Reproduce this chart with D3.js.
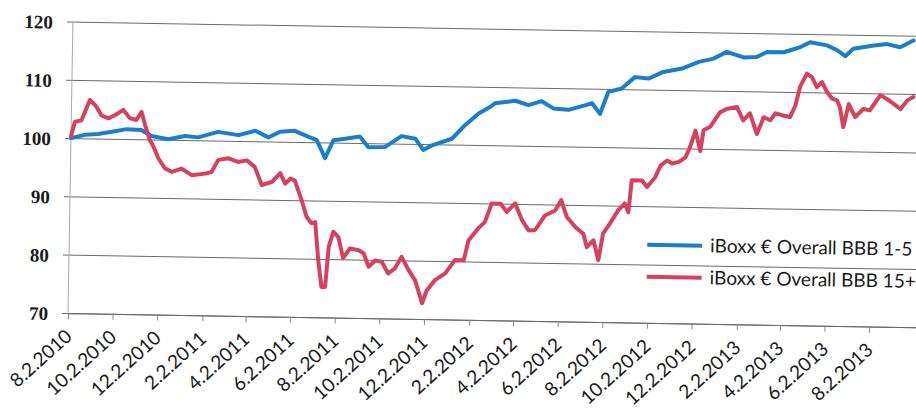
<!DOCTYPE html>
<html><head><meta charset="utf-8">
<script src="https://cdn.jsdelivr.net/npm/d3@7"></script>
<style>html,body{margin:0;padding:0;background:#fff}svg{display:block}</style>
</head><body>
<svg id="chart" width="916" height="411"></svg>
<script>
const seriesNames = ["iBoxx € Overall BBB 1-5", "iBoxx € Overall BBB 15+"];
const seriesColors = ["#1b7dcb", "#d6415d"];

const blueDates = ["2010-08-02","2010-08-21","2010-09-08","2010-09-27","2010-10-17","2010-11-06","2010-11-20","2010-12-13","2011-01-05","2011-01-23","2011-02-19","2011-03-19","2011-04-11","2011-04-29","2011-05-15","2011-06-04","2011-06-23","2011-07-04","2011-07-16","2011-07-27","2011-08-12","2011-09-01","2011-09-13","2011-10-06","2011-10-28","2011-11-16","2011-11-27","2011-12-09","2012-01-05","2012-01-23","2012-02-10","2012-02-26","2012-03-03","2012-03-31","2012-04-18","2012-05-06","2012-05-22","2012-06-12","2012-07-04","2012-07-14","2012-07-25","2012-08-05","2012-08-23","2012-09-10","2012-09-29","2012-10-17","2012-11-13","2012-12-06","2012-12-26","2013-01-13","2013-02-05","2013-02-23","2013-03-09","2013-04-01","2013-04-23","2013-05-07","2013-05-30","2013-06-13","2013-06-24","2013-07-05","2013-08-02","2013-08-20","2013-09-07","2013-09-25"];
const blueValues = [100.0,100.6,100.8,101.2,101.7,101.6,100.6,100.1,100.7,100.5,101.5,101.0,101.8,100.7,101.7,101.9,100.9,100.4,97.3,100.4,100.7,101.1,99.3,99.4,101.3,100.9,99.0,99.8,101.0,103.4,105.4,106.6,107.2,107.7,107.0,107.7,106.5,106.3,107.1,107.5,105.7,109.5,110.1,112.1,111.9,113.0,113.7,114.9,115.5,116.7,115.8,115.9,116.8,116.8,117.7,118.6,118.1,117.3,116.3,117.6,118.2,118.5,118.0,119.2];

const redDates = ["2010-08-02","2010-08-07","2010-08-16","2010-08-27","2010-09-05","2010-09-12","2010-09-22","2010-10-01","2010-10-12","2010-10-21","2010-10-30","2010-11-06","2010-11-11","2010-11-18","2010-11-23","2010-11-30","2010-12-09","2010-12-19","2011-01-01","2011-01-15","2011-02-02","2011-02-11","2011-02-20","2011-03-06","2011-03-19","2011-03-31","2011-04-11","2011-04-21","2011-05-05","2011-05-16","2011-05-23","2011-05-30","2011-06-05","2011-06-15","2011-06-22","2011-06-29","2011-07-04","2011-07-09","2011-07-14","2011-07-19","2011-07-23","2011-07-29","2011-08-05","2011-08-12","2011-08-21","2011-09-02","2011-09-09","2011-09-16","2011-09-25","2011-10-04","2011-10-13","2011-10-22","2011-10-31","2011-11-10","2011-11-19","2011-11-29","2011-12-05","2011-12-16","2011-12-30","2012-01-12","2012-01-24","2012-01-30","2012-02-12","2012-02-21","2012-03-01","2012-03-13","2012-03-22","2012-04-02","2012-04-12","2012-04-21","2012-04-30","2012-05-13","2012-05-27","2012-06-04","2012-06-12","2012-06-24","2012-07-05","2012-07-10","2012-07-19","2012-07-26","2012-08-01","2012-08-10","2012-08-21","2012-08-30","2012-09-04","2012-09-08","2012-09-22","2012-09-29","2012-10-10","2012-10-17","2012-10-26","2012-11-02","2012-11-11","2012-11-20","2012-11-26","2012-12-03","2012-12-10","2012-12-14","2012-12-23","2013-01-05","2013-01-14","2013-01-28","2013-02-06","2013-02-15","2013-02-25","2013-03-06","2013-03-15","2013-03-22","2013-03-31","2013-04-11","2013-04-18","2013-04-24","2013-05-03","2013-05-10","2013-05-17","2013-05-24","2013-05-31","2013-06-07","2013-06-14","2013-06-18","2013-06-23","2013-06-30","2013-07-09","2013-07-20","2013-07-29","2013-08-12","2013-08-21","2013-08-30","2013-09-09","2013-09-18","2013-09-26"];
const redValues = [100.3,102.8,103.1,106.6,105.5,104.0,103.5,104.1,105.0,103.6,103.3,104.7,102.5,99.9,98.8,96.8,95.1,94.5,95.1,94.0,94.3,94.6,96.7,97.0,96.4,96.7,95.6,92.5,93.1,94.6,92.8,93.7,93.4,90.0,87.2,86.1,86.3,79.8,75.2,75.2,82.1,84.7,83.8,80.2,81.9,81.6,81.1,78.8,79.9,79.7,77.7,78.6,80.6,78.3,76.6,72.7,74.9,76.7,77.9,80.2,80.2,83.6,85.7,86.8,90.0,90.0,88.6,90.1,87.2,85.5,85.6,88.1,89.0,90.8,87.9,86.2,85.1,82.8,84.0,80.6,85.2,86.9,89.2,90.4,88.9,94.4,94.4,93.3,95.0,97.0,97.9,97.4,97.7,98.5,100.3,103.1,99.6,103.2,103.8,106.3,106.9,107.3,105.0,106.2,102.7,105.6,105.1,106.3,106.0,105.7,107.7,110.9,113.2,112.6,110.9,111.8,110.1,109.0,108.7,107.5,104.1,108.1,105.9,107.3,107.1,109.7,109.1,108.3,107.4,108.9,109.5];

const yTicks = [70, 80, 90, 100, 110, 120];
const xTickDates = ["2010-08-02","2010-10-02","2010-12-02","2011-02-02","2011-04-02","2011-06-02","2011-08-02","2011-10-02","2011-12-02","2012-02-02","2012-04-02","2012-06-02","2012-08-02","2012-10-02","2012-12-02","2013-02-02","2013-04-02","2013-06-02","2013-08-02"];
const xTickLabels = ["8.2.2010","10.2.2010","12.2.2010","2.2.2011","4.2.2011","6.2.2011","8.2.2011","10.2.2011","12.2.2011","2.2.2012","4.2.2012","6.2.2012","8.2.2012","10.2.2012","12.2.2012","2.2.2013","4.2.2013","6.2.2013","8.2.2013"];

const parse = d3.utcParse("%Y-%m-%d");
const svg = d3.select("#chart");
svg.append("rect").attr("width", 916).attr("height", 411).attr("fill", "#fff");

// scanned page is slightly tilted: draw the chart in a rotated frame whose origin is the axis corner
const g = svg.append("g").attr("transform", "translate(68,313) rotate(0.97)");

const plotW = 859, plotH = 291.5;
const x = d3.scaleUtc().domain([parse("2010-08-02"), parse("2013-10-20")]).range([0, plotW]);
const y = d3.scaleLinear().domain([70, 120]).range([0, -plotH]);

// gridlines + y axis
const yAxis = d3.axisLeft(y).tickValues(yTicks).tickSize(-plotW - 6).tickPadding(0).tickFormat(d3.format("d"));
const ya = g.append("g").attr("transform", "translate(-6,0)").call(yAxis);
ya.select(".domain").remove();
ya.selectAll(".tick line").attr("stroke", "#6a6a6a").attr("stroke-width", 1);
ya.selectAll(".tick text").attr("x", -14).attr("dy", "0.36em")
  .attr("font-family", "'Liberation Serif', 'DejaVu Serif', serif")
  .attr("font-weight", "bold").attr("font-size", 19).attr("fill", "#1a1a1a");

// vertical axis line
g.append("line").attr("x1", 0).attr("x2", 0).attr("y1", 0).attr("y2", -plotH)
  .attr("stroke", "#a8a8a8").attr("stroke-width", 1);

// x axis
const xa = g.append("g").call(
  d3.axisBottom(x).tickValues(xTickDates.map(parse)).tickSize(6)
    .tickFormat((d, i) => xTickLabels[i]));
xa.select(".domain").attr("stroke", "#6a6a6a");
xa.selectAll(".tick line").attr("stroke", "#8a8a8a");
xa.selectAll(".tick text")
  .attr("text-anchor", "end").attr("y", 0).attr("dy", 0)
  .attr("transform", "translate(5,25) rotate(-43)")
  .attr("font-family", "Lato, 'Open Sans', sans-serif")
  .attr("font-size", 19).attr("fill", "#1a1a1a");

// series
const line = d3.line().x(d => x(d.date)).y(d => y(d.v));
const blue = blueDates.map((d, i) => ({ date: parse(d), v: blueValues[i] }));
const red = redDates.map((d, i) => ({ date: parse(d), v: redValues[i] }));
[blue, red].forEach((s, i) => {
  g.append("path").datum(s).attr("d", line).attr("fill", "none")
    .attr("stroke", seriesColors[i]).attr("stroke-width", 4)
    .attr("stroke-linejoin", "round").attr("stroke-linecap", "round");
});

// legend
const leg = g.append("g").attr("transform", "translate(578,-78)");
seriesNames.forEach((name, i) => {
  const row = leg.append("g").attr("transform", `translate(0,${i * 32})`);
  row.append("line").attr("x1", 0).attr("x2", 55).attr("y1", 0).attr("y2", 0)
    .attr("stroke", seriesColors[i]).attr("stroke-width", 4);
  row.append("text").attr("x", 63).attr("y", 6.5).text(name)
    .attr("font-family", "Lato, 'Open Sans', sans-serif")
    .attr("font-size", 19).attr("fill", "#1a1a1a");
});
</script>
</body></html>
